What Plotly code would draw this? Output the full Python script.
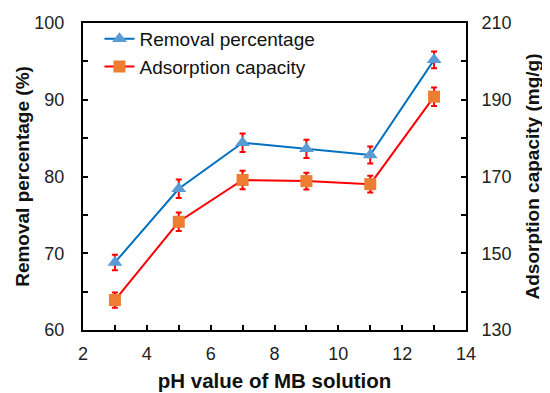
import plotly.graph_objects as go

ph = [3, 5, 7, 9, 11, 13]
removal = [68.8, 78.4, 84.4, 83.6, 82.8, 95.2]
removal_err = [1.0, 1.2, 1.2, 1.2, 1.1, 1.1]
capacity = [137.8, 158.2, 169.1, 168.8, 168.0, 190.8]
capacity_err = [2.0, 2.4, 2.4, 2.2, 2.2, 2.4]

font_family = "Liberation Sans, Arial, sans-serif"

fig = go.Figure()
fig.add_trace(go.Scatter(
    x=ph, y=removal, name="Removal percentage", mode="lines+markers",
    line=dict(color="#0070C0", width=2),
    marker=dict(symbol="triangle-up", size=13, color="#5B9BD5"),
    error_y=dict(type="data", array=removal_err, color="#FF0000", thickness=2, width=3),
))
fig.add_trace(go.Scatter(
    x=ph, y=capacity, name="Adsorption capacity", mode="lines+markers",
    line=dict(color="#FF0000", width=2),
    marker=dict(symbol="square", size=12, color="#ED7D31"),
    error_y=dict(type="data", array=capacity_err, color="#FF0000", thickness=2, width=3),
    yaxis="y2",
))

tickfont = dict(family=font_family, size=18, color="#222")
titlefont = dict(family=font_family, size=19, color="#111", weight="bold")

fig.update_layout(
    width=550, height=393,
    margin=dict(l=75, r=92, t=15, b=71),
    paper_bgcolor="white", plot_bgcolor="white",
    showlegend=True,
    legend=dict(x=0.043, y=1.01, xanchor="left", yanchor="top",
                font=dict(family=font_family, size=19, color="#111"),
                bgcolor="rgba(0,0,0,0)", itemwidth=30, tracegroupgap=0),
    xaxis=dict(range=[2, 14], dtick=2, tick0=2, showgrid=False, zeroline=False, automargin=False,
               showline=True, linecolor="black", linewidth=2, mirror=True,
               ticks="inside", ticklen=5, tickwidth=1.5, tickcolor="black",
               minor=dict(dtick=1, ticks="inside", ticklen=5, tickwidth=1.5, tickcolor="black", showgrid=False),
               tickfont=tickfont, ticklabelstandoff=6,
               title=dict(text="pH value of MB solution", font=dict(titlefont, size=20.5), standoff=11)),
    yaxis=dict(range=[60, 100], dtick=10, showgrid=False, zeroline=False, automargin=False,
               showline=True, linecolor="black", linewidth=2,
               ticks="inside", ticklen=5, tickwidth=1.5, tickcolor="black",
               minor=dict(dtick=5, ticks="inside", ticklen=5, tickwidth=1.5, tickcolor="black", showgrid=False),
               tickfont=tickfont, ticklabelstandoff=13,
               title=dict(text="Removal percentage (%)", font=titlefont, standoff=0)),
    yaxis2=dict(range=[130, 210], dtick=20, tick0=130, overlaying="y", side="right", showgrid=False,
                zeroline=False, automargin=False,
                showline=True, linecolor="black", linewidth=2,
                ticks="inside", ticklen=5, tickwidth=1.5, tickcolor="black",
                minor=dict(dtick=10, ticks="inside", ticklen=5, tickwidth=1.5, tickcolor="black", showgrid=False),
                tickfont=tickfont, ticklabelstandoff=10,
                title=dict(text="Adsorption capacity (mg/g)", font=titlefont, standoff=15)),
)

fig.write_html("out.html")
